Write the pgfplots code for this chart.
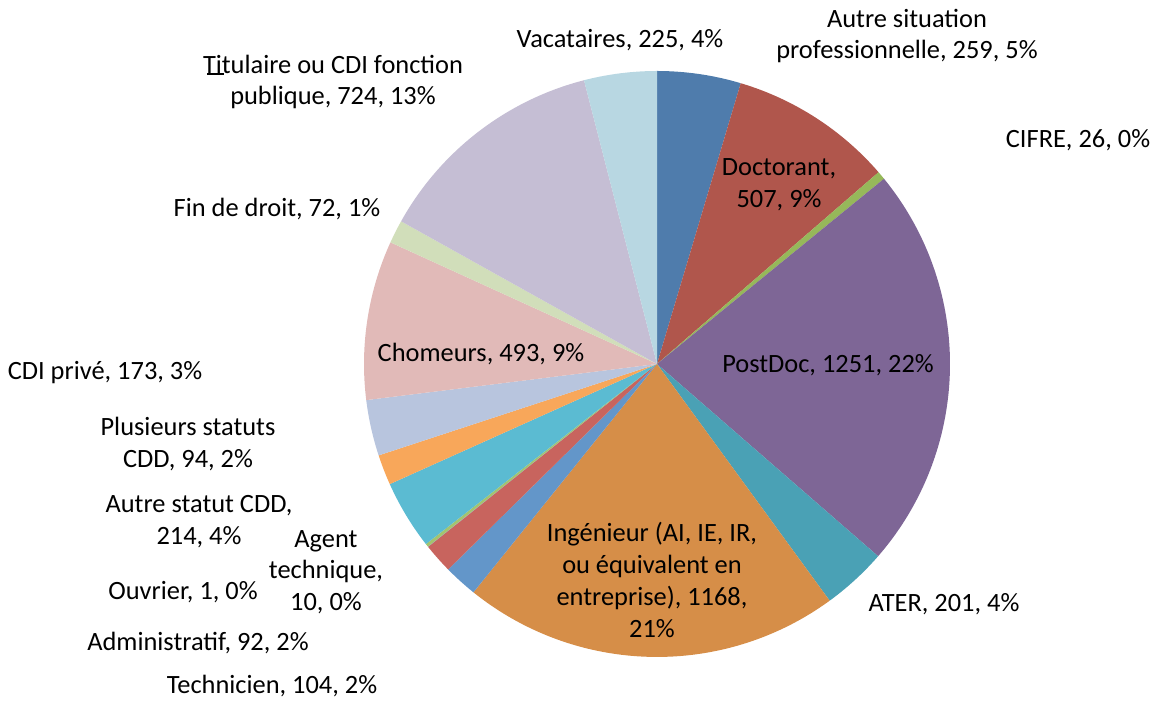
\documentclass[border=0pt]{standalone}
\usepackage{fontspec}
\setmainfont{Carlito}
\usepackage{pgfplots}
\pgfplotsset{compat=1.18}
\definecolor{c1}{HTML}{4F7CAC}
\definecolor{c2}{HTML}{B0564C}
\definecolor{c3}{HTML}{96B85A}
\definecolor{c4}{HTML}{7E6696}
\definecolor{c5}{HTML}{4AA1B5}
\definecolor{c6}{HTML}{D68E48}
\definecolor{c7}{HTML}{6396C9}
\definecolor{c8}{HTML}{C8645E}
\definecolor{c9}{HTML}{A3C46F}
\definecolor{c10}{HTML}{9A82B8}
\definecolor{c11}{HTML}{5BBBD2}
\definecolor{c12}{HTML}{F8A75A}
\definecolor{c13}{HTML}{B8C5DE}
\definecolor{c14}{HTML}{E1BAB8}
\definecolor{c15}{HTML}{D1DEBA}
\definecolor{c16}{HTML}{C5BED4}
\definecolor{c17}{HTML}{B8D7E2}
\newcommand\total{5614}
\def\cum{0}
\newcommand\slice[2]{%
  \pgfmathsetmacro\aA{90-360*(\cum/\total)}%
  \pgfmathsetmacro\cumnew{\cum+#1}%
  \pgfmathsetmacro\aB{90-360*(\cumnew/\total)}%
  \edef\doslice{\noexpand\addplot[fill=#2, draw=none, domain=\aB:\aA, samples=90] ({293*cos(x)},{293*sin(x)}) -- (axis cs:0,0) -- cycle;}%
  \doslice
  \global\let\cum\cumnew
}
\begin{document}
\begin{tikzpicture}[every node/.style={font=\fontsize{26.4}{31.7}\selectfont, align=center}]
\begin{axis}[width=1156pt, height=701pt, scale only axis,
  xmin=-657, xmax=499, ymin=-337, ymax=364, hide axis, clip=false]
\path (axis cs:-657,-337) rectangle (axis cs:499,364);
% values in clockwise order from 12 o'clock
\slice{259}{c1}   % Autre situation professionnelle
\slice{507}{c2}   % Doctorant
\slice{26}{c3}    % CIFRE
\slice{1251}{c4}  % PostDoc
\slice{201}{c5}   % ATER
\slice{1168}{c6}  % Ingenieur
\slice{104}{c7}   % Technicien
\slice{92}{c8}    % Administratif
\slice{1}{c10}    % Ouvrier
\slice{10}{c9}    % Agent technique
\slice{214}{c11}  % Autre statut CDD
\slice{94}{c12}   % Plusieurs statuts CDD
\slice{173}{c13}  % CDI prive
\slice{493}{c14}  % Chomeurs
\slice{72}{c15}   % Fin de droit
\slice{724}{c16}  % Titulaire
\slice{225}{c17}  % Vacataires
\node at (axis cs:-37,324) {Vacataires, 225, 4\%};
\node at (axis cs:250,328) {Autre situation\\professionnelle, 259, 5\%};
\node at (axis cs:421,224) {CIFRE, 26, 0\%};
\node at (axis cs:122,179) {Doctorant,\\507, 9\%};
\node at (axis cs:171,-1) {PostDoc, 1251, 22\%};
\node at (axis cs:287,-240) {ATER, 201, 4\%};
\node at (axis cs:-5,-216) {Ingénieur (AI, IE, IR,\\ou équivalent en\\entreprise), 1168,\\21\%};
\node at (axis cs:-385,-322) {Technicien, 104, 2\%};
\node at (axis cs:-459,-279) {Administratif, 92, 2\%};
\node at (axis cs:-474,-228) {Ouvrier, 1, 0\%};
\node at (axis cs:-331,-208) {Agent\\technique,\\10, 0\%};
\node at (axis cs:-458,-158) {Autre statut CDD,\\214, 4\%};
\node at (axis cs:-469,-80) {Plusieurs statuts\\CDD, 94, 2\%};
\node at (axis cs:-552,-9) {CDI privé, 173, 3\%};
\node at (axis cs:-176,10) {Chomeurs, 493, 9\%};
\node at (axis cs:-380,155) {Fin de droit, 72, 1\%};
\node at (axis cs:-324,282) {Titulaire ou CDI fonction\\publique, 724, 13\%};
\draw[black, line width=1.5pt] (axis cs:-450,290) -- (axis cs:-433,290);
\end{axis}
\end{tikzpicture}
\end{document}
